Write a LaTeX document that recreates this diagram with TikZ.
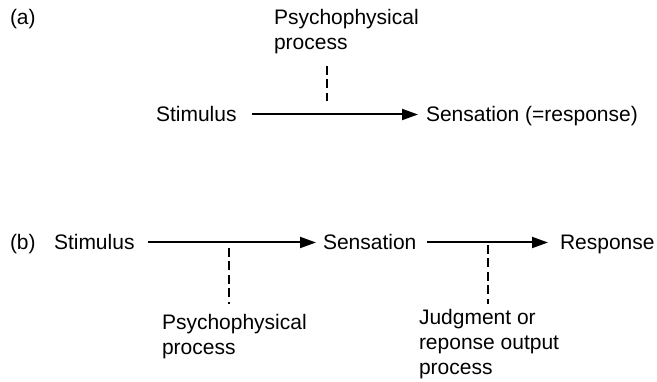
\documentclass[tikz,border=0pt]{standalone}
\usepackage{fontspec}
\setmainfont{Liberation Sans}
\usetikzlibrary{arrows.meta}
\begin{document}
\begin{tikzpicture}[x=1pt,y=-1pt,
  every node/.style={inner sep=0pt,outer sep=0pt,font=\fontsize{21}{25}\selectfont},
  term/.style={anchor=base west,text height=15pt,text depth=0pt},
  lbl/.style={anchor=base west,align=left},
  arr/.style={line width=2pt,-{Triangle[length=16pt,width=11pt]}},
  dsh/.style={line width=2.6pt,dash pattern=on 9pt off 4.5pt}]
\useasboundingbox (0,0) rectangle (657,382);
% (a)
\node[lbl] (la) at (10,25) {(a)};
\node[term] (stimA) at (156,122) {Stimulus};
\node[term] (sensA) at (426,122) {Sensation (=response)};
\node[lbl] (procA) at (274,50) {Psychophysical\\process};
\draw[arr,shorten <=15pt,shorten >=8pt] (stimA.east) -- (sensA.west);
\coordinate (pa1) at (327,66);
\coordinate (pa2) at (327,101);
\draw[dsh] (pa1) -- (pa2);
% (b)
\node[lbl] (lb) at (10,250) {(b)};
\node[term] (stimB) at (54,250) {Stimulus};
\node[term] (sensB) at (323,250) {Sensation};
\node[term] (respB) at (560,250) {Response};
\draw[arr,shorten <=13pt,shorten >=7pt] (stimB.east) -- (sensB.west);
\draw[arr,shorten <=11pt,shorten >=12pt] (sensB.east) -- (respB.west);
\node[lbl] (procB) at (162,355) {Psychophysical\\process};
\node[lbl] (judB) at (419,375) {Judgment or\\reponse output\\process};
\coordinate (pb1) at (229,248);
\coordinate (pb2) at (229,304);
\draw[dsh] (pb1) -- (pb2);
\coordinate (pc1) at (488,245);
\coordinate (pc2) at (488,304);
\draw[dsh] (pc1) -- (pc2);
\end{tikzpicture}
\end{document}
